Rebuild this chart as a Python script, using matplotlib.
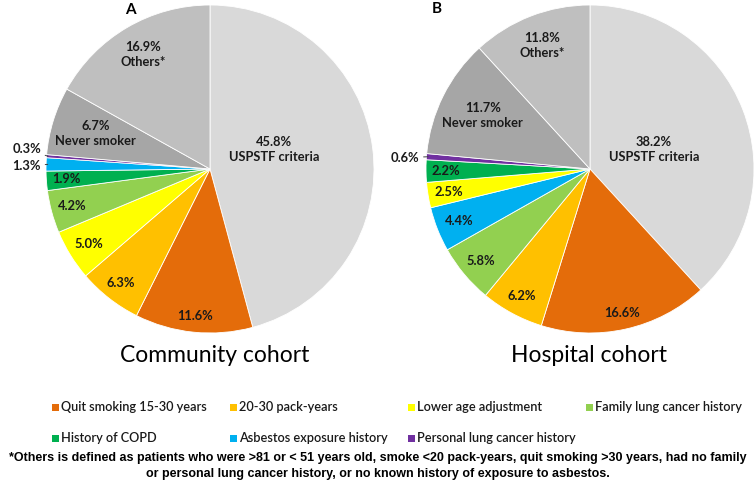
import numpy as np
import matplotlib
matplotlib.use("Agg")
import matplotlib.pyplot as plt
from matplotlib.patches import Rectangle

# ---------------- data ----------------
categories = ["USPSTF criteria", "Quit smoking 15-30 years", "20-30 pack-years",
              "Lower age adjustment", "Family lung cancer history", "History of COPD",
              "Asbestos exposure history", "Personal lung cancer history",
              "Never smoker", "Others"]
colors = {"USPSTF criteria": "#d9d9d9", "Quit smoking 15-30 years": "#e46c0a",
          "20-30 pack-years": "#ffc000", "Lower age adjustment": "#ffff00",
          "Family lung cancer history": "#92d050", "History of COPD": "#00b050",
          "Asbestos exposure history": "#00b0f0", "Personal lung cancer history": "#7030a0",
          "Never smoker": "#a6a6a6", "Others": "#bfbfbf"}

community_order = ["USPSTF criteria", "Quit smoking 15-30 years", "20-30 pack-years",
                   "Lower age adjustment", "Family lung cancer history", "History of COPD",
                   "Asbestos exposure history", "Personal lung cancer history",
                   "Never smoker", "Others"]
community_values = [45.8, 11.6, 6.3, 5.0, 4.2, 1.9, 1.3, 0.3, 6.7, 16.9]

hospital_order = ["USPSTF criteria", "Quit smoking 15-30 years", "20-30 pack-years",
                  "Family lung cancer history", "Asbestos exposure history",
                  "Lower age adjustment", "History of COPD",
                  "Personal lung cancer history", "Never smoker", "Others"]
hospital_values = [38.2, 16.6, 6.2, 5.8, 4.4, 2.5, 2.2, 0.6, 11.7, 11.8]

legend_items = ["Quit smoking 15-30 years", "20-30 pack-years", "Lower age adjustment",
                "Family lung cancer history", "History of COPD",
                "Asbestos exposure history", "Personal lung cancer history"]

titles = ["Community cohort", "Hospital cohort"]
panel_letters = ["A", "B"]
footnote = ("*Others is defined as patients who were >81 or < 51 years old, smoke <20 pack-years, "
            "quit smoking >30 years, had no family\nor personal lung cancer history, "
            "or no known history of exposure to asbestos.")

# ---------------- figure ----------------
W, H = 756, 480
fig = plt.figure(figsize=(W / 100, H / 100), dpi=100)
fig.patch.set_facecolor("white")
LABEL_FONT = ["Lato", "DejaVu Sans"]

def px_axes(cx, cy, r):
    return fig.add_axes([(cx - r) / W, (H - cy - r) / H, 2 * r / W, 2 * r / H])

# label radius factors per category (inside labels)
label_r = {"Quit smoking 15-30 years": 0.90, "20-30 pack-years": 0.88,
           "Lower age adjustment": 0.87, "Family lung cancer history": 0.87,
           "History of COPD": 0.88, "Asbestos exposure history": 0.86,
           "Never smoker": 0.73, "Others": 0.81}

def draw_pie(ax, order, values, outside):
    wedges, _ = ax.pie(values, colors=[colors[c] for c in order], startangle=90,
                       counterclock=False, radius=1.0,
                       wedgeprops=dict(edgecolor="white", linewidth=0.6))
    ax.set_xlim(-1, 1)
    ax.set_ylim(-1, 1)
    ax.set_aspect("equal")
    ax.axis("off")
    for w, cat, v in zip(wedges, order, values):
        mid = np.deg2rad((w.theta1 + w.theta2) / 2)
        txt = f"{v:.1f}%"
        if cat == "USPSTF criteria":
            ax.text(0.39, 0.12, txt + "\nUSPSTF criteria", ha="center", va="center",
                    fontsize=9.3, fontweight="bold", family=LABEL_FONT, linespacing=1.3,
                    color="#1a1a1a")
        elif cat in outside:
            tx, ty = outside[cat]
            ex, ey = np.cos(mid), np.sin(mid)
            ax.annotate(txt, xy=(ex * 0.99, ey * 0.99), xytext=(tx, ty),
                        ha="right", va="center", fontsize=9.3, fontweight="bold",
                        family=LABEL_FONT, color="#1a1a1a",
                        arrowprops=dict(arrowstyle="-", color="#404040", lw=0.7,
                                        shrinkA=1, shrinkB=0,
                                        connectionstyle="arc3,rad=0.0"))
        else:
            r = label_r.get(cat, 0.88)
            x, y = r * np.cos(mid), r * np.sin(mid)
            if cat == "Never smoker":
                s = txt + "\nNever smoker"
            elif cat == "Others":
                s = txt + "\nOthers*"
            else:
                s = txt
            ax.text(x, y, s, ha="center", va="center", fontsize=9.3,
                    fontweight="bold", family=LABEL_FONT, color="#1a1a1a",
                    linespacing=1.3)
    return wedges

axA = px_axes(210, 169, 164)
draw_pie(axA, community_order, community_values,
         {"Personal lung cancer history": (-1.03, 0.12),
          "Asbestos exposure history": (-1.03, 0.02)})
axB = px_axes(590, 169, 164)
draw_pie(axB, hospital_order, hospital_values,
         {"Personal lung cancer history": (-1.04, 0.07)})

# panel letters
fig.text(130 / W, 1 - 10 / H, panel_letters[0], ha="center", va="center",
         fontsize=11, fontweight="bold", family=LABEL_FONT)
fig.text(437 / W, 1 - 9 / H, panel_letters[1], ha="center", va="center",
         fontsize=11, fontweight="bold", family=LABEL_FONT)

# cohort titles
fig.text(215 / W, 1 - 356 / H, titles[0], ha="center", va="center", fontsize=16.5,
         family=LABEL_FONT)
fig.text(589 / W, 1 - 356 / H, titles[1], ha="center", va="center", fontsize=16.5,
         family=LABEL_FONT)

# legend
for i, item in enumerate(legend_items):
    col, row = i % 4, i // 4
    x0 = 52 + 178 * col
    y0 = 407 + 31 * row
    fig.patches.append(Rectangle((x0 / W, 1 - (y0 + 3.5) / H), 7 / W, 7 / H,
                                 transform=fig.transFigure, facecolor=colors[item],
                                 edgecolor="none"))
    fig.text((x0 + 9) / W, 1 - y0 / H, item, ha="left", va="center", fontsize=9.2,
             family=LABEL_FONT, fontweight="semibold", color="#1a1a1a")

# footnote
fig.text(0.5, 1 - 466 / H, footnote, ha="center", va="center", fontsize=9,
         fontweight="bold", family=["Liberation Sans"], linespacing=1.4)

fig.savefig("out.png", dpi=100)
